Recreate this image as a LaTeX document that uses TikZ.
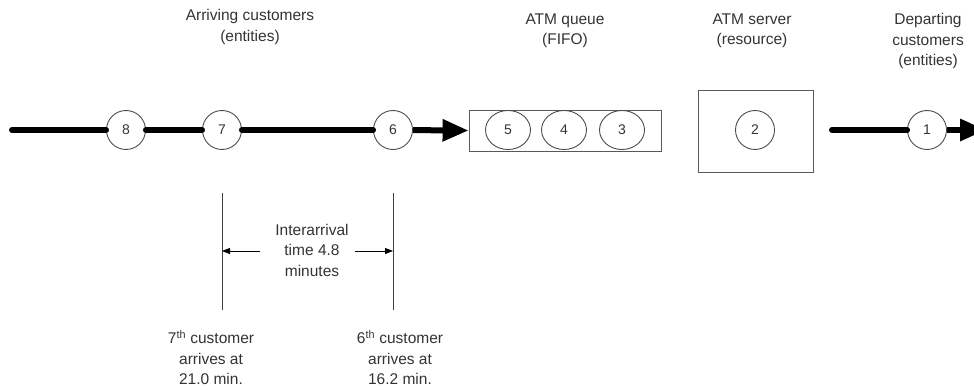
\documentclass[tikz,border=0pt]{standalone}
\usepackage{fontspec}
\setmainfont{Liberation Sans}
\usetikzlibrary{arrows.meta,shapes.geometric}
\begin{document}
\begin{tikzpicture}[x=1pt,y=-1pt,
  ent/.style={draw=black!70,line width=0.9pt,circle,minimum size=39pt,inner sep=0pt,font=\fontsize{14}{16}\selectfont,text=black!80},
  qent/.style={draw=black!70,line width=0.9pt,ellipse,minimum width=45pt,minimum height=39pt,inner sep=0pt,font=\fontsize{14}{16}\selectfont,text=black!80},
  lbl/.style={align=center,font=\fontsize{15.5}{20.5}\selectfont,text=black!80},
  flow/.style={line width=6pt,line cap=round},
  bigarrow/.style={line width=6pt,-{Triangle[length=26pt,width=21pt]}},
  thin/.style={line width=0.8pt,draw=black!75},
  small/.style={line width=0.8pt,-{Triangle[length=8pt,width=6pt]}},
  box/.style={draw=black!65,line width=0.9pt,inner sep=0pt}
]
\useasboundingbox (0,0) rectangle (974,390);
% boxes
\node[box,minimum width=192pt,minimum height=41pt] (queue) at (565,130.5) {};
\node[box,minimum width=115pt,minimum height=82pt] (server) at (755.5,131) {};
% entities
\node[ent] (c8) at (126,130) {8};
\node[ent] (c7) at (222,130) {7};
\node[ent] (c6) at (393,130) {6};
\node[qent] (c5) at (508,130) {5};
\node[qent] (c4) at (564,130) {4};
\node[qent] (c3) at (622,130) {3};
\node[ent] (c2) at (755,130) {2};
\node[ent] (c1) at (927,130) {1};
% coordinates
\coordinate (start) at (12,130);
\coordinate (dstart) at (832,130);
\coordinate (dend) at (986,130);
% flow
\draw[flow] (start) -- (c8);
\draw[flow] (c8) -- (c7);
\draw[flow] (c7) -- (c6);
\draw[bigarrow] (c6) -- (queue.west);
\draw[flow] (dstart) -- (c1);
\draw[bigarrow] (c1) -- (dend);
% labels
\node[lbl] (l1) at (250,27) {Arriving customers\\(entities)};
\node[lbl] (l2) at (565,31) {ATM queue\\(FIFO)};
\node[lbl] (l3) at (752,31) {ATM server\\(resource)};
\node[lbl] (l4) at (928,41) {Departing\\customers\\(entities)};
% interarrival
\coordinate (v7a) at (222,193);
\coordinate (v7b) at (222,310);
\coordinate (v6a) at (393,193);
\coordinate (v6b) at (393,310);
\draw[thin] (v7a) -- (v7b);
\draw[thin] (v6a) -- (v6b);
\node[lbl] (ia) at (312,250) {Interarrival\\time 4.8\\minutes};
\coordinate (a7) at (222,251);
\coordinate (a6) at (393,251);
\coordinate (ia7) at (260,251);
\coordinate (ia6) at (355,251);
\draw[small] (ia7) -- (a7);
\draw[small] (ia6) -- (a6);
\node[lbl] (b7) at (211,358) {7\textsuperscript{th} customer\\arrives at\\21.0 min.};
\node[lbl] (b6) at (400,358) {6\textsuperscript{th} customer\\arrives at\\16.2 min.};
\end{tikzpicture}
\end{document}
